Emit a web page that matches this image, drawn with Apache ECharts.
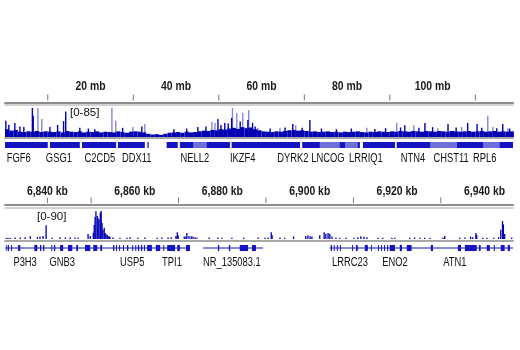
<!DOCTYPE html>
<html><head><meta charset="utf-8">
<script src="https://cdn.jsdelivr.net/npm/echarts@6/dist/echarts.min.js"></script>
<style>html,body{margin:0;padding:0;background:#fff}#c{width:520px;height:350px}</style>
</head><body><div id="c"></div>
<script>
// ---------- Panel 1: chromosome overview (mb) ----------
const chrMin = 0, chrMax = 118.8;
const chrTickLabels = [20, 40, 60, 80, 100];
const chrTicks = [10, 30, 50, 70, 90, 110];
const chrRange = 85;
// background signal, one value per 1-mb bin starting at 0 mb
const chrBase = [
  22,18,20,15,14,16,15,17,14,16,
  15,14,16,13,17,15,14,16,13,15,
  14,16,13,15,14,13,16,14,12,15,
  16,15,13,9,7,8,6,9,12,13,
  14,12,15,13,14,16,18,17,20,19,
  22,21,24,26,23,28,25,27,22,19,
  16,15,14,16,15,17,19,20,18,19,
  17,15,16,14,15,16,14,15,13,15,
  14,15,16,14,13,15,14,16,15,14,
  16,15,17,16,15,17,16,15,17,16,
  15,17,16,15,17,16,15,16,17,15,
  16,17,15,16,17,15,16,15,16
];
const chrSpikesDark = [
  [0.2,46],[0.9,35],[2.3,40],[3.5,30],[4.4,28],[6.4,82],[6.6,60],[10.5,28],[12.3,34],[13.7,45],[14.2,72],
  [17.5,26],[19.5,24],[21.0,22],[27.5,26],[32.0,30],[39.5,22],[42.5,24],[45.1,28],[47.0,30],[49.8,51],
  [50.5,34],[51.4,40],[52.2,38],[53.0,54],[55.0,44],[56.8,48],[57.9,40],[58.5,30],[62.0,24],[65.5,27],
  [67.3,37],[69.5,26],[71.3,48],[74.0,24],[77.5,22],[81.0,24],[86.5,23],[89.0,25],[92.5,27],[93.5,33],
  [96.8,26],[98.2,40],[100.0,28],[103.6,37],[105.5,27],[108.2,40],[110.4,37],[111.5,26],[115.0,25],
  [116.4,37],[118.0,24]
];
const chrSpikesLight = [
  [7.7,82],[8.6,51],[25.0,82],[25.9,46],[29.9,28],[32.7,37],[48.4,43],[49.1,40],[53.2,82],
  [54.2,68],[55.6,68],[57.0,76],[59.1,26],[64.3,26],[68.0,33],[84.6,26],[91.6,40],[95.6,33],
  [101.2,25],[106.8,28],[112.9,60],[114.1,28],[117.6,24]
];
const chrGenes = [
  [0,10.0],[10.5,17.5],[18.0,26.0],[26.4,32.7],[33.3,33.6],[37.8,40.4],[40.9,52.6],[53.0,69.0],
  [69.5,83.0],[83.7,91.2],[91.6,101.7],[102.2,118.8]
];
const chrGenesLight = [[44.0,47.2],[73.6,78.3],[79.5,82.5],[99.4,105.7],[111.8,115.7]];
const chrGeneNames = ['FGF6','GSG1','C2CD5','DDX11','NELL2','IKZF4','DYRK2','LNCOG','LRRIQ1','NTN4','CHST11','RPL6'];
const chrGenePos = [3.2,12.6,22.2,30.8,44.4,55.6,67.3,75.5,84.4,95.4,104.3,112.2];

// ---------- Panel 2: zoomed region (kb) ----------
const zMin = 6830.3, zMax = 6946.5;
const zTickLabels = [6840, 6860, 6880, 6900, 6920, 6940];
const zTicks = [6840, 6850, 6870, 6890, 6910, 6930];
const zRange = 90;
const zSignal = [
  [6830.6,3],[6831.0,4],[6831.5,3],[6832.6,5],[6833.8,5],[6834.9,6],[6836.1,9],[6837.7,6],[6838.3,8],
  [6839.0,10],[6839.7,44],[6841.1,4],[6842.9,6],[6844.1,5],[6845.2,5],[6846.3,5],[6847.0,4],
  [6849.3,16],[6849.8,10],[6850.5,20],[6850.7,45],[6850.9,71],[6851.1,89],[6851.4,74],[6851.6,67],
  [6851.8,63],[6852.1,85],[6852.3,90],[6852.5,52],[6852.7,30],[6853.0,36],[6853.2,19],[6853.4,16],
  [6853.7,13],[6853.9,8],[6854.1,9],[6854.3,7],[6855.0,5],[6856.6,4],[6858.2,4],[6858.9,6],
  [6860.7,4],[6862.3,5],[6865.1,4],[6866.2,5],[6867.6,5],[6868.3,6],[6869.4,10],[6869.7,22],
  [6869.9,12],[6871.3,8],[6871.7,8],[6871.9,19],[6872.4,10],[6872.9,9],[6873.3,8],[6873.8,6],
  [6874.2,4],[6877.0,5],[6879.0,5],[6879.9,4],[6882.2,4],[6884.9,4],[6888.2,5],[6889.8,4],
  [6890.5,5],[6891.2,22],[6891.4,12],[6893.2,5],[6894.3,4],[6896.3,8],[6899.1,10],[6899.6,12],
  [6900.1,9],[6900.5,8],[6902.3,12],[6903.3,22],[6903.7,17],[6904.2,19],[6904.6,17],[6905.1,8],
  [6906.0,5],[6906.9,4],[6908.3,4],[6910.1,4],[6911.0,6],[6911.7,9],[6912.4,7],[6913.1,6],
  [6915.6,4],[6916.7,4],[6918.8,4],[6919.5,4],[6922.9,4],[6924.0,5],[6925.2,4],[6926.3,4],
  [6927.5,4],[6930.5,5],[6930.9,10],[6934.3,4],[6935.5,5],[6936.8,8],[6937.3,6],[6938.0,19],
  [6938.2,13],[6939.6,4],[6940.5,4],[6942.1,4],[6943.2,6],[6943.7,30],[6944.1,58],[6944.3,47],
  [6944.6,16],[6946.2,5]
];
const zIntrons = [[6830.3,6872.6],[6875.6,6889.3],[6904.6,6946.5]];
const zExons = [
  [6830.6,6830.8],[6831.0,6831.2],[6831.7,6831.9],[6833.3,6833.8],[6837.0,6837.7],[6838.3,6838.6],
  [6839.0,6839.3],[6840.9,6841.1],[6841.5,6841.8],[6842.9,6843.6],[6844.7,6845.7],[6846.6,6847.0],
  [6848.6,6849.8],[6850.5,6851.4],[6852.1,6852.5],[6855.0,6855.3],[6855.7,6855.9],[6856.4,6856.6],
  [6857.3,6857.5],[6858.2,6858.5],[6859.4,6859.6],[6860.1,6860.3],[6860.7,6861.0],[6861.4,6861.7],
  [6862.1,6862.3],[6862.8,6863.9],[6864.8,6865.8],[6866.5,6866.7],[6867.4,6869.2],[6869.7,6870.3],
  [6871.7,6872.6],[6879.0,6879.3],[6881.5,6881.8],[6884.0,6885.9],[6886.8,6887.7],
  [6904.8,6905.1],[6905.5,6905.7],[6906.2,6906.4],[6906.9,6907.1],[6909.7,6909.9],[6910.6,6911.0],
  [6912.6,6913.3],[6914.0,6914.2],[6915.6,6915.8],[6916.3,6916.5],[6917.0,6917.2],[6917.7,6917.9],
  [6918.3,6919.5],[6920.6,6921.1],[6922.2,6923.3],[6927.7,6928.2],[6933.9,6934.6],[6935.5,6938.2],
  [6938.7,6939.1],[6940.5,6941.2],[6942.1,6942.3],[6943.7,6944.6],[6945.3,6945.8]
];
const zGeneNames = ['P3H3','GNB3','USP5','TPI1','NR_135083.1','LRRC23','ENO2','ATN1'];
const zGenePos = [6834.9,6843.4,6859.4,6868.5,6882.2,6909.2,6919.5,6933.2];

// ---------- styling ----------
const DARK = '#0000b2', LIGHT = '#8585dc', GENE = '#1414c0';
const AXFONT = 'bold 13px "Liberation Sans", Arial, sans-serif';
const GFONT = '12px "Liberation Sans", Arial, sans-serif';

function tickRender(params, api) {
  const a = api.coord([api.value(0), 1]), b = api.coord([api.value(0), 0.25]);
  return {type:'line', shape:{x1:a[0], y1:a[1], x2:b[0], y2:b[1]}, style:{stroke:'#777', lineWidth:1}};
}
function labelRender(fmt, dy) {
  return function(params, api) {
    const p = api.coord([api.value(0), 1]);
    return {type:'text', x:p[0], y:p[1]+dy, scaleX:0.8,
      style:{x:0, y:0, text:fmt(api.value(0)), font:AXFONT, fill:'#1a1a1a', align:'center', verticalAlign:'middle', textAlign:'center', textVerticalAlign:'middle'}};
  };
}
function binRender(color) {
  return function(params, api) {
    const s = api.value(0), v = api.value(1);
    const p0 = api.coord([s, v]), p1 = api.coord([s + 1, 0]);
    return {type:'rect', shape:{x:p0[0], y:p0[1], width:p1[0]-p0[0], height:p1[1]-p0[1]}, style:{fill:color}};
  };
}
function spikeRender(color, w) {
  return function(params, api) {
    const p0 = api.coord([api.value(0), api.value(1)]), p1 = api.coord([api.value(0), 0]);
    return {type:'rect', shape:{x:p0[0]-w/2, y:p0[1], width:w, height:p1[1]-p0[1]}, style:{fill:color}};
  };
}
function segRender(color, lo, hi, minW) {
  return function(params, api) {
    const p0 = api.coord([api.value(0), hi]), p1 = api.coord([api.value(1), lo]);
    return {type:'rect', shape:{x:p0[0], y:p0[1], width:Math.max(minW, p1[0]-p0[0]), height:p1[1]-p0[1]}, style:{fill:color}};
  };
}
function nameRender(names, dy) {
  return function(params, api) {
    const p = api.coord([api.value(0), 0]);
    return {type:'text', x:p[0], y:p[1]+dy, scaleX:0.78,
      style:{x:0, y:0, text:names[params.dataIndex], font:GFONT, fill:'#111', align:'center', verticalAlign:'middle', textAlign:'center', textVerticalAlign:'middle'}};
  };
}

const L = 5, R = 7;
const hid = {show:false};
function xa(grid, min, max, pos, line, offset) {
  return {type:'value', gridIndex:grid, min:min, max:max, position:pos, offset:offset||0,
    axisLine: line ? {show:true, onZero:false, lineStyle:{color:line[0], width:line[1]}} : {show:false},
    axisTick:hid, axisLabel:hid, splitLine:hid};
}
function ya(grid, max) {
  return {type:'value', gridIndex:grid, min:0, max:max, show:false, splitLine:hid};
}

const option = {
  animation:false,
  grid:[
    {left:L, right:R, top:94.5, height:8},
    {left:L, right:R, top:107, height:30},
    {left:L, right:R, top:141, height:8},
    {left:L, right:R, top:197.5, height:7.5},
    {left:L, right:R, top:211, height:28},
    {left:L, right:R, top:244, height:8}
  ],
  xAxis:[
    xa(0, chrMin, chrMax, 'bottom', ['#8c8c8c', 2]),
    xa(1, chrMin, chrMax, 'top', ['#c4c4c4', 1.5], 2.5),
    xa(1, chrMin, chrMax, 'bottom', ['#a8a8a8', 2], 1),
    xa(2, chrMin, chrMax, 'bottom', null),
    xa(3, zMin, zMax, 'bottom', ['#8c8c8c', 2]),
    xa(4, zMin, zMax, 'top', ['#c4c4c4', 1.5], 3),
    xa(4, zMin, zMax, 'bottom', ['#a8a8a8', 2], 2),
    xa(5, zMin, zMax, 'bottom', null)
  ],
  yAxis:[ya(0,1), ya(1,chrRange), ya(2,1), ya(3,1), ya(4,zRange), ya(5,1)],
  series:[
    {type:'custom', xAxisIndex:0, yAxisIndex:0, data:chrTicks.map(v=>[v]), renderItem:tickRender},
    {type:'custom', xAxisIndex:0, yAxisIndex:0, data:chrTickLabels.map(v=>[v]), renderItem:labelRender(v=>v+' mb', -8.5)},
    {type:'custom', xAxisIndex:2, yAxisIndex:1, data:chrSpikesLight, renderItem:spikeRender(LIGHT, 1.4)},
    {type:'custom', xAxisIndex:2, yAxisIndex:1, data:chrBase.map((v,i)=>[i,v]), renderItem:binRender(DARK)},
    {type:'custom', xAxisIndex:2, yAxisIndex:1, data:chrSpikesDark, renderItem:spikeRender(DARK, 1.4)},
    {type:'custom', xAxisIndex:3, yAxisIndex:2, data:chrGenes, renderItem:segRender(GENE, 0.125, 0.875, 1)},
    {type:'custom', xAxisIndex:3, yAxisIndex:2, data:chrGenesLight, renderItem:segRender('#6f6fd8', 0.125, 0.875, 1)},
    {type:'custom', xAxisIndex:3, yAxisIndex:2, data:chrGenePos.map(v=>[v]), renderItem:nameRender(chrGeneNames, 9.5)},

    {type:'custom', xAxisIndex:4, yAxisIndex:3, data:zTicks.map(v=>[v]), renderItem:tickRender},
    {type:'custom', xAxisIndex:4, yAxisIndex:3, data:zTickLabels.map(v=>[v]), renderItem:labelRender(v=>v.toLocaleString('en-US')+' kb', -6.5)},
    {type:'custom', xAxisIndex:6, yAxisIndex:4, data:zSignal, renderItem:spikeRender(DARK, 1.3)},
    {type:'custom', xAxisIndex:7, yAxisIndex:5, data:zIntrons, renderItem:segRender(GENE, 0.44, 0.56, 1)},
    {type:'custom', xAxisIndex:7, yAxisIndex:5, data:zExons, renderItem:segRender(GENE, 0.12, 0.88, 1)},
    {type:'custom', xAxisIndex:7, yAxisIndex:5, data:zGenePos.map(v=>[v]), renderItem:nameRender(zGeneNames, 10.5)}
  ],
  graphic:[
    {type:'text', left:70, top:107, z:100, style:{text:'[0-85]', font:'11.5px "Liberation Sans", Arial, sans-serif', fill:'#111'}},
    {type:'text', left:37, top:211, z:100, style:{text:'[0-90]', font:'11.5px "Liberation Sans", Arial, sans-serif', fill:'#111'}}
  ]
};
const chart = echarts.init(document.getElementById('c'), null, {renderer:'canvas'});
chart.setOption(option);
</script>
</body></html>
